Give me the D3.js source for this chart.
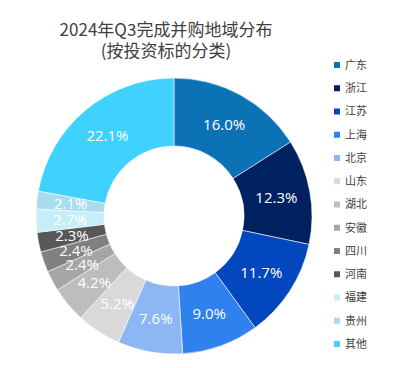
<!DOCTYPE html>
<html><head><meta charset="utf-8">
<script src="https://cdn.jsdelivr.net/npm/d3@7"></script>
<style>body{margin:0;background:#fff}svg{display:block}</style>
</head><body>
<svg id="c" width="403" height="368"></svg>
<script>
const categories = ["广东","浙江","江苏","上海","北京","山东","湖北","安徽","四川","河南","福建","贵州","其他"];
const values = [16.0,12.3,11.7,9.0,7.6,5.2,4.2,2.4,2.4,2.3,2.7,2.1,22.1];
const colors = ["#0B73B5","#002160","#0347BF","#2F81EE","#8CB6F4","#D9D9D9","#BDBDBD","#A5A5A5","#808080","#585858","#C6EEF8","#A9DCEE","#40D2FF"];
const titleLines = ["2024年Q3完成并购地域分布","(按投资标的分类)"];

const svg = d3.select("#c");
const cx = 174, cy = 216, rO = 138, rI = 70;
const pie = d3.pie().sort(null).value(d => d.v);
const arcs = pie(categories.map((c,i)=>({c, v: values[i], col: colors[i]})));
const arc = d3.arc().innerRadius(rI).outerRadius(rO);
const g = svg.append("g").attr("transform", `translate(${cx},${cy})`);
g.selectAll("path").data(arcs).join("path")
  .attr("d", arc).attr("fill", d => d.data.col)
  .attr("stroke", "#fff").attr("stroke-width", 0.8).attr("stroke-opacity", 0.7);
g.selectAll("text").data(arcs).join("text")
  .attr("transform", d => `translate(${arc.centroid(d)})`)
  .attr("text-anchor", "middle").attr("dy", "0.36em")
  .attr("font-family", "'Open Sans', 'Noto Sans', sans-serif")
  .attr("font-size", 15).attr("fill", "#fff")
  .text(d => d.data.v.toFixed(1) + "%");

svg.selectAll("text.title").data(titleLines).join("text").attr("class","title")
  .attr("x", 166).attr("y", (d,i) => 36 + i*21)
  .attr("text-anchor", "middle")
  .attr("font-family", "'Noto Sans CJK SC', sans-serif")
  .attr("font-size", 17).attr("fill", "#404040")
  .text(d => d);

const ly = d3.scalePoint().domain(categories).range([65, 344]);
const lg = svg.append("g");
const items = lg.selectAll("g").data(categories).join("g")
  .attr("transform", (d) => `translate(337,${ly(d)})`);
items.append("rect").attr("x", -3).attr("y", -3).attr("width", 6).attr("height", 6)
  .attr("fill", (d,i) => colors[i]);
items.append("text").attr("x", 8).attr("dy", "0.36em")
  .attr("font-family", "'Noto Sans CJK SC', sans-serif")
  .attr("font-size", 11).attr("fill", "#404040")
  .text(d => d);
</script>
</body></html>
